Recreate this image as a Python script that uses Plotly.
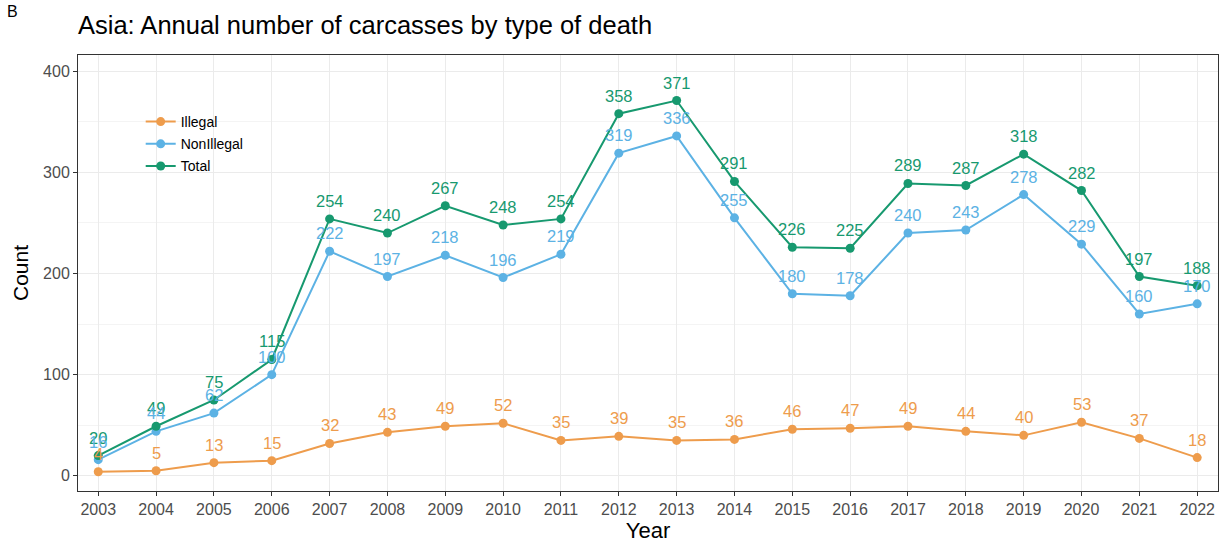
import plotly.graph_objects as go

years = list(range(2003, 2023))
illegal = [4, 5, 13, 15, 32, 43, 49, 52, 35, 39, 35, 36, 46, 47, 49, 44, 40, 53, 37, 18]
nonillegal = [16, 44, 62, 100, 222, 197, 218, 196, 219, 319, 336, 255, 180, 178, 240, 243, 278, 229, 160, 170]
total = [20, 49, 75, 115, 254, 240, 267, 248, 254, 358, 371, 291, 226, 225, 289, 287, 318, 282, 197, 188]

series = [
    ("Illegal", illegal, "#EE9C4C"),
    ("NonIllegal", nonillegal, "#5CB2E4"),
    ("Total", total, "#17996F"),
]

fig = go.Figure()
annotations = []
for i, (name, vals, col) in enumerate(series):
    fig.add_trace(go.Scatter(
        x=years, y=vals, name=name, mode="lines+markers",
        line=dict(color=col, width=2), marker=dict(color=col, size=9),
        legendgroup=name,
    ))
for name, vals, col in [series[0], series[2], series[1]]:
    for x, v in zip(years, vals):
        annotations.append(dict(x=x, y=v, text=str(v), showarrow=False, yshift=18,
                                font=dict(size=16.5, color=col)))

annotations.append(dict(x=-0.064, y=1.124, xref="paper", yref="paper", text="B", showarrow=False,
                        xanchor="left", yanchor="top", font=dict(size=16, color="#000")))

fig.update_layout(
    width=1223, height=544,
    margin=dict(l=78, r=5, t=55, b=53),
    paper_bgcolor="white", plot_bgcolor="white",
    font=dict(family="Liberation Sans, Arial, sans-serif", color="#000"),
    title=dict(text="Asia: Annual number of carcasses by type of death", x=78/1223, xanchor="left",
               y=1 - 25/544, yanchor="middle", font=dict(size=25.5, color="#000")),
    annotations=annotations,
    showlegend=True,
    legend=dict(x=0.055, y=0.883, xanchor="left", yanchor="top", bgcolor="rgba(0,0,0,0)",
                font=dict(size=14, color="#000"), tracegroupgap=1, itemwidth=30),
)
fig.update_xaxes(
    range=[2002.65, 2022.36], tickmode="array", tickvals=years, ticktext=[str(y) for y in years],
    showgrid=True, gridcolor="#EBEBEB", gridwidth=1,
    showline=True, linecolor="#333333", linewidth=1, mirror=True,
    ticks="outside", ticklen=4, tickcolor="#333333",
    tickfont=dict(size=16, color="#4D4D4D"),
    title=dict(text="Year", font=dict(size=22, color="#000"), standoff=3),
    zeroline=False,
)
fig.update_yaxes(
    range=[-15, 416], tickmode="array", tickvals=[0, 100, 200, 300, 400],
    showgrid=True, gridcolor="#EBEBEB", gridwidth=1,
    minor=dict(tickmode="array", tickvals=[50, 150, 250, 350], showgrid=True, gridcolor="#F4F4F4", gridwidth=1, ticks=""),
    showline=True, linecolor="#333333", linewidth=1, mirror=True,
    ticks="outside", ticklen=4, tickcolor="#333333",
    tickfont=dict(size=16, color="#4D4D4D"),
    title=dict(text="Count", font=dict(size=21, color="#000"), standoff=8),
    zeroline=False,
)
fig.write_html("out.html")
